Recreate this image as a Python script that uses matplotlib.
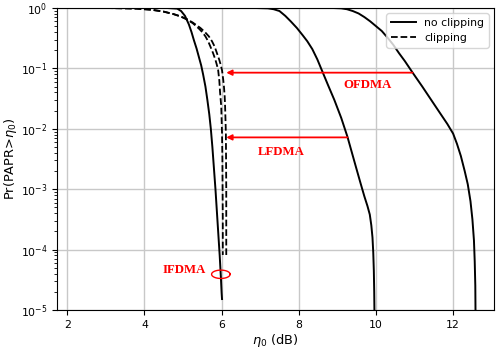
import numpy as np
import matplotlib
matplotlib.use("Agg")
import matplotlib.pyplot as plt

plt.rcParams['font.size'] = 7.8

# ---- data (x in dB, y as log10 of probability) ----
ofdma_x = [8.9, 9.1, 9.25, 9.4, 9.55, 9.7, 9.85, 10.0, 10.15, 10.3, 10.45, 10.6, 10.75, 10.95,
           11.2, 11.43, 11.65, 11.85, 12.0, 12.1, 12.2, 12.3, 12.38, 12.45, 12.5, 12.54, 12.56, 12.575, 12.58]
ofdma_logy = [0.0, -0.005, -0.02, -0.05, -0.09, -0.15, -0.22, -0.30, -0.38, -0.49, -0.61, -0.75, -0.88, -1.07,
              -1.30, -1.52, -1.73, -1.92, -2.08, -2.25, -2.45, -2.7, -2.92, -3.2, -3.5, -3.85, -4.2, -4.6, -5.0]

lfdma_x = [6.9, 7.2, 7.35, 7.5, 7.65, 7.79, 7.95, 8.1, 8.22, 8.35, 8.48, 8.61, 8.76, 8.92, 9.1, 9.26,
           9.37, 9.48, 9.6, 9.7, 9.78, 9.84, 9.88, 9.91, 9.93, 9.945, 9.955, 9.96]
lfdma_logy = [0.0, -0.005, -0.02, -0.05, -0.13, -0.22, -0.33, -0.45, -0.55, -0.68, -0.85, -1.05, -1.28, -1.52, -1.82, -2.13,
              -2.38, -2.63, -2.9, -3.12, -3.28, -3.42, -3.6, -3.8, -4.05, -4.35, -4.7, -5.0]

ifdma_x = [4.6, 4.85, 4.95, 5.05, 5.15, 5.22, 5.28, 5.35, 5.41, 5.47, 5.52, 5.58, 5.63, 5.68, 5.72,
           5.76, 5.8, 5.84, 5.88, 5.92, 5.95, 5.98, 6.0, 6.01]
ifdma_logy = [0.0, -0.01, -0.05, -0.13, -0.27, -0.4, -0.53, -0.67, -0.81, -0.95, -1.1, -1.3, -1.52, -1.76, -2.0,
              -2.3, -2.65, -3.0, -3.4, -3.8, -4.1, -4.45, -4.72, -4.82]

clip1_x = [3.0, 3.5, 3.8, 4.2, 4.5, 4.75, 4.94, 5.1, 5.25, 5.41, 5.5, 5.58, 5.65, 5.71, 5.78, 5.84, 5.88,
           5.91, 5.94, 5.96, 5.99, 6.0, 6.01, 6.02, 6.025, 6.03, 6.03]
clip1_logy = [0.0, -0.005, -0.01, -0.03, -0.06, -0.1, -0.14, -0.19, -0.25, -0.34, -0.4, -0.47, -0.55, -0.64, -0.75, -0.86, -0.95,
              -1.03, -1.2, -1.4, -1.63, -1.85, -2.07, -2.5, -3.0, -3.5, -4.09]

clip2_x = [3.0, 3.5, 3.8, 4.2, 4.5, 4.75, 4.94, 5.1, 5.25, 5.45, 5.57, 5.67, 5.75, 5.82, 5.88, 5.94, 5.98,
           6.01, 6.04, 6.06, 6.08, 6.09, 6.1, 6.11, 6.115, 6.12, 6.12, 6.12]
clip2_logy = [0.0, -0.005, -0.01, -0.03, -0.06, -0.1, -0.14, -0.185, -0.24, -0.33, -0.4, -0.47, -0.55, -0.64, -0.75, -0.86, -0.95,
              -1.03, -1.18, -1.3, -1.47, -1.63, -1.85, -2.07, -2.5, -3.0, -3.5, -4.09]

# annotations
ofdma_arrow = (10.95, 6.12, 0.085)   # x_from, x_to, y
lfdma_arrow = (9.26, 6.12, 0.0072)
ofdma_label = (9.78, 0.053)
lfdma_label = (7.55, 0.0042)
ifdma_label = (5.04, 10**-4.34)
ell_center = (5.98, -4.41)   # x, log10 y
ell_half = (0.24, 0.069)     # half width (dB), half height (decades)

fig = plt.figure(figsize=(4.98, 3.49), dpi=100)
ax = fig.add_axes([0.115, 0.112, 0.877, 0.865])

lw = 1.4
ax.semilogy(ofdma_x, 10**np.array(ofdma_logy), 'k-', lw=lw, label='no clipping')
ax.semilogy(lfdma_x, 10**np.array(lfdma_logy), 'k-', lw=lw)
ax.semilogy(ifdma_x, 10**np.array(ifdma_logy), 'k-', lw=lw)
ax.semilogy(clip1_x, 10**np.array(clip1_logy), 'k--', lw=1.3, label='clipping')
ax.semilogy(clip2_x, 10**np.array(clip2_logy), 'k--', lw=1.3)

ax.set_xlim(1.74, 13.06)
ax.set_ylim(1e-5, 1)
ax.set_xticks([2, 4, 6, 8, 10, 12])
ax.grid(True, which='major', color='#c8c8c8', lw=1.0)
ax.set_xlabel(r'$\eta_0$ (dB)', fontsize=9.3, labelpad=1.5)
ax.set_ylabel(r'Pr(PAPR>$\eta_0$)', fontsize=9.3, labelpad=1.5)

for (x0, x1, y) in [ofdma_arrow, lfdma_arrow]:
    ax.annotate('', xy=(x1, y), xytext=(x0, y),
                arrowprops=dict(arrowstyle='-|>', color='red', lw=1.3,
                                mutation_scale=8, shrinkA=0, shrinkB=0))

tkw = dict(color='red', fontsize=9.2, fontweight='bold', family='Liberation Serif',
           ha='center', va='center')
ax.text(*ofdma_label, 'OFDMA', **tkw)
ax.text(*lfdma_label, 'LFDMA', **tkw)
ax.text(*ifdma_label, 'IFDMA', **tkw)

t = np.linspace(0, 2 * np.pi, 100)
ax.plot(ell_center[0] + ell_half[0] * np.cos(t),
        10**(ell_center[1] + ell_half[1] * np.sin(t)), color='red', lw=1.0)

ax.legend(loc='upper right', handlelength=2.3)

fig.savefig('out.png', dpi=100)
